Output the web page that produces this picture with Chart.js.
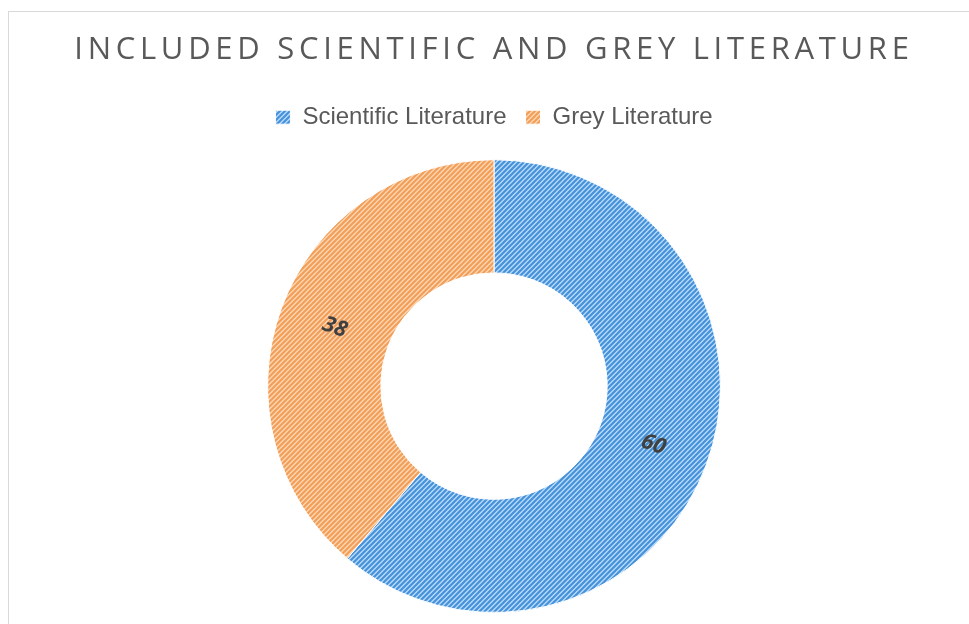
<!DOCTYPE html>
<html>
<head>
<meta charset="utf-8">
<script src="https://cdn.jsdelivr.net/npm/chart.js@4/dist/chart.umd.min.js"></script>
<style>
  html, body { margin: 0; padding: 0; background: #fff; overflow: hidden; }
  #frame {
    position: absolute; left: 8px; top: 11px;
    width: 970px; height: 613px;
    border-left: 1px solid #d9d9d9; border-top: 1px solid #d9d9d9;
  }
  #frame canvas { position: absolute; left: 0; top: 0; }
</style>
</head>
<body>
<div id="frame"><canvas id="donut" width="970" height="613"></canvas></div>
<script>
// chart data
const categories = ['Scientific Literature', 'Grey Literature'];
const counts = [60, 38];
const chartTitle = 'INCLUDED SCIENTIFIC AND GREY LITERATURE';

// diagonal hatch fill like the office "wide upward diagonal" pattern
function hatch(bg, fg) {
	const s = 5;
	const c = document.createElement('canvas');
	c.width = s; c.height = s;
	const g = c.getContext('2d');
	g.fillStyle = bg;
	g.fillRect(0, 0, s, s);
	g.strokeStyle = fg;
	g.lineWidth = 2.1;
	g.beginPath();
	g.moveTo(0, s); g.lineTo(s, 0);
	g.moveTo(-1, 1); g.lineTo(1, -1);
	g.moveTo(s - 1, s + 1); g.lineTo(s + 1, s - 1);
	g.stroke();
	return g.createPattern(c, 'repeat');
}

const ctx = document.getElementById('donut').getContext('2d');
const fills = [hatch('#b8daf7', '#4490db'), hatch('#fdd6b2', '#f29e58')];

// spaced-out title letters
const titleSpacing = {
	id: 'titleSpacing',
	afterLayout(chart) {
		const tb = chart.titleBlock;
		if (tb && !tb._spaced) {
			const orig = tb.draw.bind(tb);
			tb.draw = function () {
				chart.ctx.save();
				chart.ctx.letterSpacing = '4.7px';
				orig();
				chart.ctx.restore();
			};
			tb._spaced = true;
		}
	}
};

// extra room under the legend
const legendGap = {
	id: 'legendGap',
	beforeInit(chart) {
		const fit = chart.legend.fit;
		chart.legend.fit = function () {
			fit.bind(chart.legend)();
			this.height += 20;
		};
	}
};

// value labels, rotated along the ring
const ringLabels = {
	id: 'ringLabels',
	afterDatasetsDraw(chart) {
		const c = chart.ctx;
		const meta = chart.getDatasetMeta(0);
		meta.data.forEach((arc, i) => {
			const p = arc.tooltipPosition();
			const mid = (arc.startAngle + arc.endAngle) / 2;
			let rot = mid;
			while (rot > Math.PI / 2) rot -= Math.PI;
			while (rot < -Math.PI / 2) rot += Math.PI;
			c.save();
			c.translate(p.x, p.y);
			c.rotate(rot);
			c.font = 'italic bold 22px "Open Sans", "Liberation Sans", sans-serif';
			c.fillStyle = '#404040';
			c.textAlign = 'center';
			c.textBaseline = 'middle';
			c.fillText(String(counts[i]), 0, 0);
			c.restore();
		});
	}
};

new Chart(ctx, {
	type: 'doughnut',
	data: {
		labels: categories,
		datasets: [{
			data: counts,
			backgroundColor: fills,
			borderColor: '#ffffff',
			borderWidth: 1,
			hoverOffset: 0
		}]
	},
	options: {
		responsive: false,
		animation: false,
		cutout: '50%',
		layout: { padding: { bottom: 12 } },
		plugins: {
			title: {
				display: true,
				text: chartTitle,
				color: '#595959',
				font: { family: '"Open Sans", sans-serif', size: 31, weight: 'normal' },
				padding: { top: 20, bottom: 17 }
			},
			legend: {
				position: 'top',
				labels: {
					color: '#595959',
					font: { family: '"Liberation Sans", Arial, sans-serif', size: 24 },
					boxWidth: 15,
					boxHeight: 14,
					padding: 19
				}
			},
			tooltip: { enabled: false }
		}
	},
	plugins: [titleSpacing, legendGap, ringLabels]
});
</script>
</body>
</html>
